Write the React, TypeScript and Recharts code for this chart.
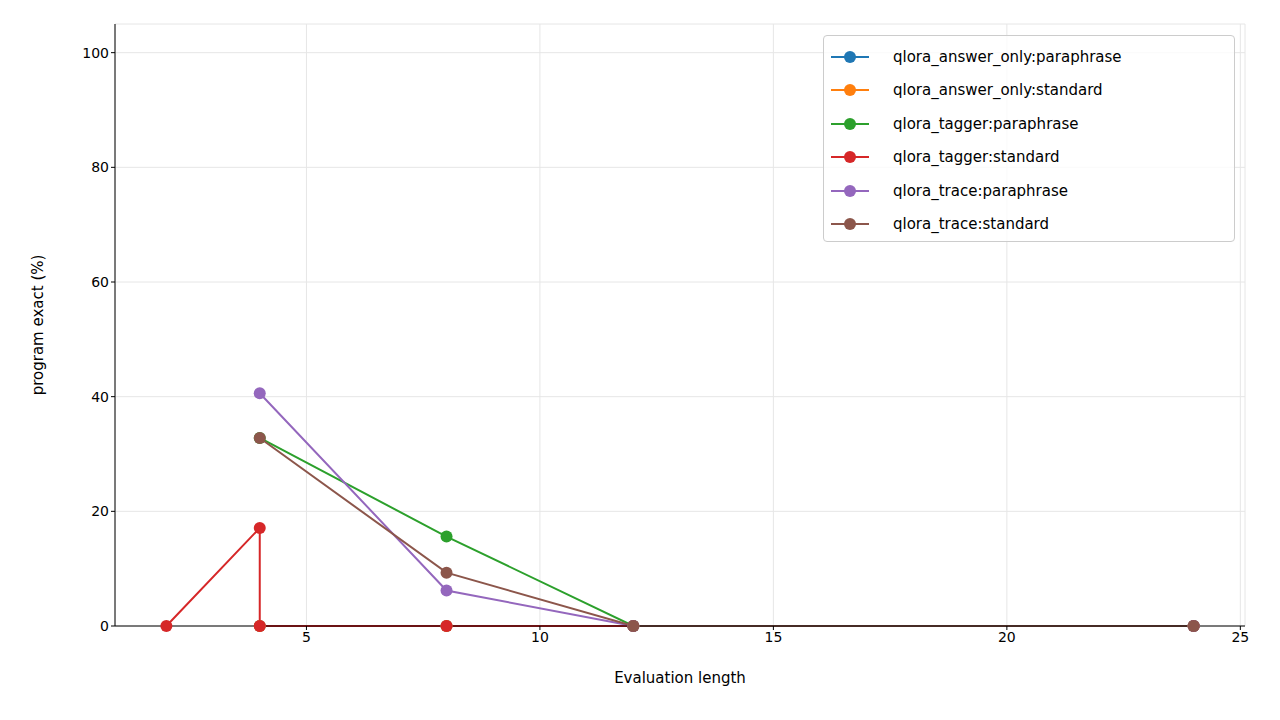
import { LineChart, Line, XAxis, YAxis, CartesianGrid } from 'recharts'

const lengths = [4, 8, 12, 24]
const answerOnlyParaphrase = [0, 0, 0, 0]
const answerOnlyStandard = [0, 0, 0, 0]
const taggerParaphrase = [32.8, 15.6, 0, 0]
const taggerStandardX = [2, 4, 4, 8, 12, 24]
const taggerStandard = [0, 17.1, 0, 0, 0, 0]
const traceParaphrase = [40.6, 6.2, 0, 0]
const traceStandard = [32.8, 9.3, 0, 0]

const xTicks = [5, 10, 15, 20, 25]
const yTicks = [0, 20, 40, 60, 80, 100]

const toPoints = (xs: number[], ys: number[]) => xs.map((x, i) => ({ x, y: ys[i] }))

const series = [
  { name: 'qlora_answer_only:paraphrase', color: '#1f77b4', data: toPoints(lengths, answerOnlyParaphrase) },
  { name: 'qlora_answer_only:standard', color: '#ff7f0e', data: toPoints(lengths, answerOnlyStandard) },
  { name: 'qlora_tagger:paraphrase', color: '#2ca02c', data: toPoints(lengths, taggerParaphrase) },
  { name: 'qlora_tagger:standard', color: '#d62728', data: toPoints(taggerStandardX, taggerStandard) },
  { name: 'qlora_trace:paraphrase', color: '#9467bd', data: toPoints(lengths, traceParaphrase) },
  { name: 'qlora_trace:standard', color: '#8c564b', data: toPoints(lengths, traceStandard) },
]

const font = 'DejaVu Sans, sans-serif'
const tickStyle = { fill: '#000', fontSize: 14, fontFamily: font }

export default function App() {
  return (
    <div style={{ position: 'absolute', left: 0, top: 0, width: 1280, height: 720, background: '#fff', fontFamily: font }}>
      <LineChart width={1280} height={720} margin={{ top: 24, right: 35, bottom: 0, left: 0 }}>
        <CartesianGrid stroke="#e6e6e6" />
        <XAxis
          type="number"
          dataKey="x"
          domain={[0.9, 25.1]}
          ticks={xTicks}
          allowDuplicatedCategory={false}
          tick={tickStyle}
          tickSize={4}
          stroke="#000"
          height={94}
          label={{ value: 'Evaluation length', position: 'insideTop', offset: 46, fill: '#000', fontSize: 15, fontFamily: font }}
        />
        <XAxis xAxisId="top" orientation="top" type="number" domain={[0.9, 25.1]} tick={false} tickLine={false} height={0} stroke="#000" />
        <YAxis
          type="number"
          domain={[0, 105]}
          ticks={yTicks}
          tick={tickStyle}
          tickSize={4}
          stroke="#000"
          width={115}
          label={{ value: 'program exact (%)', angle: -90, position: 'insideLeft', offset: 38, fill: '#000', fontSize: 15, fontFamily: font, style: { textAnchor: 'middle' } }}
        />
        <YAxis yAxisId="r" orientation="right" domain={[0, 105]} tick={false} tickLine={false} width={0} stroke="#000" />
        {series.map((s) => (
          <Line
            key={s.name}
            data={s.data}
            dataKey="y"
            type="linear"
            stroke={s.color}
            strokeWidth={2}
            dot={{ r: 6, fill: s.color, stroke: s.color, strokeWidth: 0 }}
            isAnimationActive={false}
          />
        ))}
      </LineChart>
      <div
        style={{
          position: 'absolute', left: 823, top: 35, width: 412, height: 207,
          border: '1px solid #ccc', borderRadius: 4, background: 'rgba(255,255,255,0.8)', boxSizing: 'border-box',
          paddingTop: 4,
        }}
      >
        {series.map((s) => (
          <div key={s.name} style={{ display: 'flex', alignItems: 'center', height: 33.5, fontSize: 15, color: '#000' }}>
            <svg width={64} height={20} style={{ marginLeft: 5 }}>
              <line x1={2} y1={10} x2={40} y2={10} stroke={s.color} strokeWidth={2} />
              <circle cx={21} cy={10} r={6} fill={s.color} />
            </svg>
            <span>{s.name}</span>
          </div>
        ))}
      </div>
    </div>
  )
}
